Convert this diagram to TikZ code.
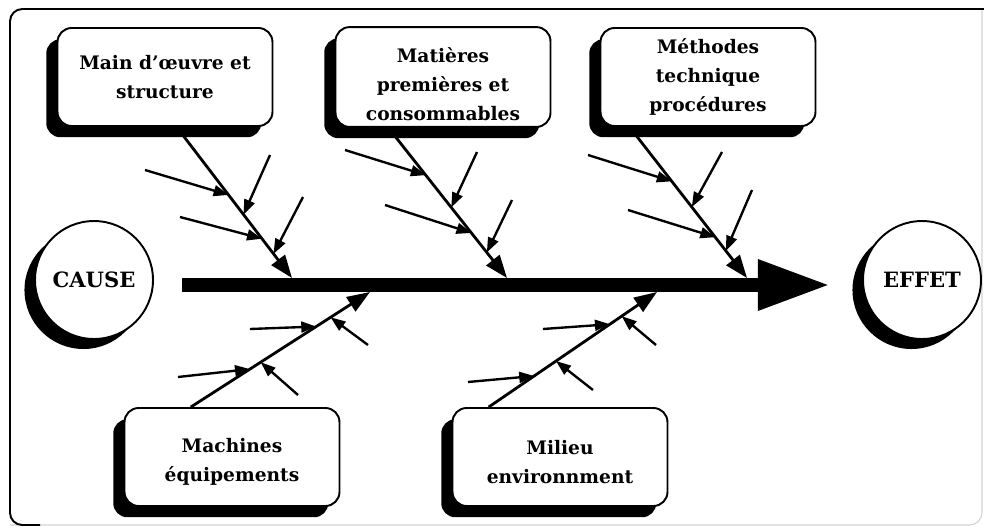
\documentclass[tikz,border=0pt]{standalone}
\usepackage{fontspec}
\setmainfont{DejaVu Serif}
\usetikzlibrary{arrows.meta,shadows,calc,backgrounds}
\newcommand{\lowerby}[1]{\rule{0pt}{#1}}
\begin{document}
\begin{tikzpicture}[x=0.02cm,y=-0.02cm,
  catbox/.style={draw, line width=1.1pt, rounded corners=8pt, fill=white,
    minimum width=4.3cm, minimum height=1.96cm, align=center,
    font=\bfseries\fontsize{10.6}{16.5}\selectfont,
    drop shadow={shadow xshift=-6.4pt, shadow yshift=-6.4pt, opacity=1, fill=black}},
  endcircle/.style={draw, circle, line width=1.1pt, fill=white,
    minimum size=2.36cm, inner sep=0pt,
    font=\bfseries\fontsize{12}{14}\selectfont,
    drop shadow={shadow xshift=-6pt, shadow yshift=-5.7pt, opacity=1, fill=black}},
  branch/.style={line width=1.6pt, -{Triangle[length=13pt,width=9.5pt]}},
  subcause/.style={line width=1.35pt, -{Triangle[length=8.5pt,width=6.2pt]}},
  spine/.style={line width=8pt, -{Triangle[length=41pt,width=27pt]}},
]
\useasboundingbox (0,0) rectangle (984,528);

% outer frame
\draw[gray!35, line width=0.6pt, rounded corners=7pt] (10,525) -- (982,525) -- (982,9);
\draw[black, line width=1.1pt, rounded corners=7pt] (984,9) -- (10,9) -- (10,525) -- (40,525);

% cause and effect
\node[endcircle] (cause) at (94,280) {CAUSE};
\node[endcircle] (effet) at (922,280) {EFFET};

% category boxes
\node[catbox] (m1) at (165,77) {Main d’œuvre et\\structure};
\node[catbox] (m2) at (443,77) {\lowerby{17pt}Matières\\premières et\\consommables};
\node[catbox] (m3) at (708,77) {Méthodes\\technique\\procédures};
\node[catbox] (m4) at (232,457) {\lowerby{14pt}Machines\\équipements};
\node[catbox] (m5) at (560,457) {\lowerby{14pt}Milieu\\environnment};

% spine end points and branch tips
\coordinate (s0) at (182,285);
\coordinate (s1) at (830,285);
\coordinate (t1) at (292,278);
\coordinate (t2) at (507,278);
\coordinate (t3) at (747,278);
\coordinate (t4) at (370,292);
\coordinate (t5) at (657,292);

% branch start points on the boxes
\coordinate (a1) at ($(m1.south)+(11.6,0)$);
\coordinate (a2) at ($(m2.south)+(-54.6,0)$);
\coordinate (a3) at ($(m3.south)+(-78.5,0)$);
\coordinate (a4) at ($(m4.north)+(-41.2,0)$);
\coordinate (a5) at ($(m5.north)+(-71.3,0)$);

\begin{scope}[on background layer]
  \draw[spine] (s0) -- (s1);
  \foreach \b in {1,...,5} {
    \draw[branch] (a\b) -- (t\b);
  }
  % secondary causes: tail position, branch, position along branch
  \foreach \n/\tx/\ty/\b/\p in {
      1/145/170/1/0.45, 2/180/217/1/0.74, 3/270/155/1/0.58, 4/303/197/1/0.84,
      5/345/150/2/0.315, 6/385/205/2/0.70, 7/477/152/2/0.53, 8/512/200/2/0.83,
      9/588/155/3/0.36, 10/628/210/3/0.73, 11/722/152/3/0.53, 12/752/190/3/0.82,
      13/250/329/4/0.70, 14/178/377/4/0.33, 15/368/345/4/0.78, 16/298/395/4/0.39,
      17/543/329/5/0.72, 18/468/382/5/0.27, 19/656/345/5/0.79, 20/593/390/5/0.40} {
    \coordinate (f\n) at (\tx,\ty);
    \draw[subcause] (f\n) -- ($(a\b)!\p!(t\b)$);
  }
\end{scope}
\end{tikzpicture}
\end{document}
